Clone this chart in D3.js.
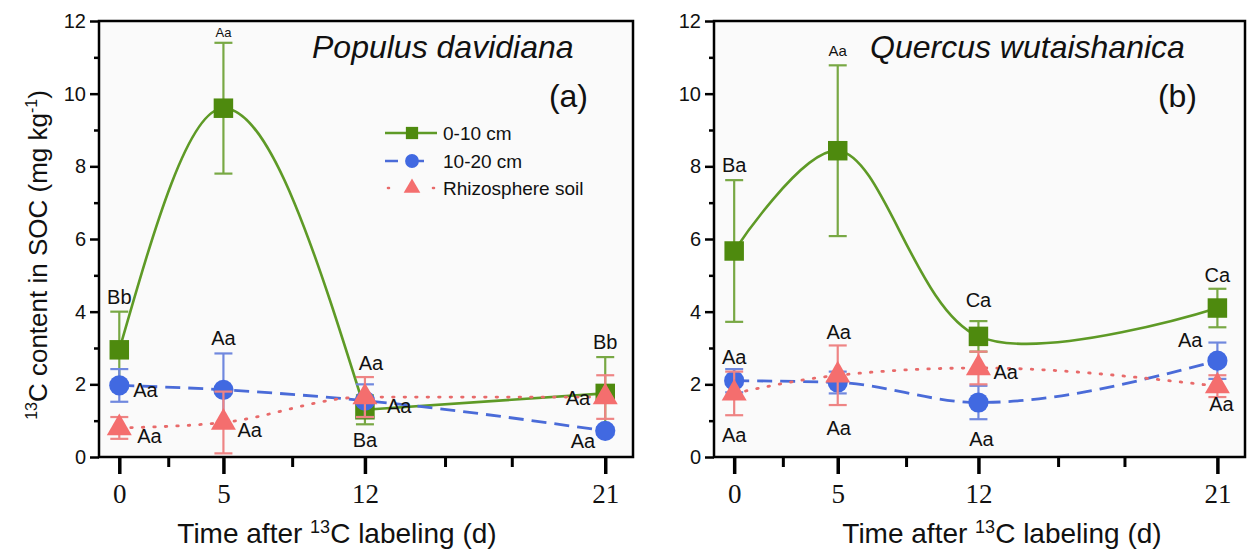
<!DOCTYPE html>
<html>
<head>
<meta charset="utf-8">
<script src="https://cdn.jsdelivr.net/npm/d3@7"></script>
<style>
  body { margin: 0; background: #fff; }
  svg { display: block; font-family: "Liberation Sans", Arial, sans-serif; }
</style>
</head>
<body>
<svg id="chart" width="1247" height="551"></svg>
<script>
// ---- data ----
var days = [0, 5, 12, 21];
var minorDays = [2.35, 8.4, 15, 17.5];
var yTicks = [0, 2, 4, 6, 8, 10, 12];
var yMinor = [1, 3, 5, 7, 9, 11];
var seriesNames = ['0-10 cm', '10-20 cm', 'Rhizosphere soil'];
var panelTitles = ['Populus davidiana', 'Quercus wutaishanica'];
var panelTags = ['(a)', '(b)'];

// (a) Populus davidiana
var popTop = [2.95, 9.6, 1.3, 1.75];
var popTopErr = [1.05, 1.8, 0.4, 1.0];
var popSub = [1.97, 1.85, 1.55, 0.72];
var popSubErr = [0.45, 1.0, 0.45, 0.1];
var popRhizo = [0.8, 0.95, 1.65, 1.65];
var popRhizoErr = [0.3, 0.85, 0.55, 0.6];
var popLetters = [['Bb', 'Aa', 'Ba', 'Bb'], ['Aa', 'Aa', 'Aa', 'Aa'], ['Aa', 'Aa', 'Aa', 'Aa']];

// (b) Quercus wutaishanica
var queTop = [5.67, 8.43, 3.32, 4.1];
var queTopErr = [1.95, 2.35, 0.42, 0.53];
var queSub = [2.1, 2.05, 1.5, 2.65];
var queSubErr = [0.32, 0.3, 0.46, 0.5];
var queRhizo = [1.75, 2.25, 2.45, 1.95];
var queRhizoErr = [0.6, 0.82, 0.45, 0.3];
var queLetters = [['Ba', 'Aa', 'Ca', 'Ca'], ['Aa', 'Aa', 'Aa', 'Aa'], ['Aa', 'Aa', 'Aa', 'Aa']];

// where each letter sits relative to its marker: [dx, dy, anchor, fontSize]
var popLabelPos = [
    [[0, -46, 'middle', 20], [0, -71, 'middle', 13], [0, 37, 'middle', 20], [0, -44, 'middle', 20]],
    [[14, 12, 'start', 20], [0, -45, 'middle', 20], [22, 12, 'start', 20], [-10, 17, 'end', 20]],
    [[18, 15, 'start', 20], [14, 15, 'start', 20], [6, -27, 'middle', 20], [-15, 8, 'end', 20]]
];
var queLabelPos = [
    [[0, -79, 'middle', 20], [0, -95, 'middle', 15], [0, -29, 'middle', 20], [0, -26, 'middle', 20]],
    [[0, -17, 'middle', 20], [1, 52, 'middle', 20], [3, 43, 'middle', 20], [-15, -14, 'end', 20]],
    [[0, 49, 'middle', 20], [1, -36, 'middle', 20], [15, 11, 'start', 20], [4, 25, 'middle', 20]]
];

// ---- styling ----
var styles = [
    { fill: '#4e8a0e', line: '#5e9a26', err: '#78a844', dash: null, symbol: d3.symbolSquare, size: 380, lsize: 150 },
    { fill: '#4169e1', line: '#4a6bd8', err: '#7088de', dash: '15,8', symbol: d3.symbolCircle, size: 320, lsize: 150 },
    { fill: '#f46e6e', line: '#e86a6a', err: '#ee8484', dash: '1.5,10', symbol: d3.symbolTriangle, size: 270, lsize: 120 }
];
var dayFrac = [0.038, 0.233, 0.498, 0.948];

var panels = [
    { left: 99, right: 633, top: 21, bottom: 457, title: panelTitles[0], tag: panelTags[0],
      titleX: 312, tagX: 588, xTitleX: 337,
      values: [popTop, popSub, popRhizo], errors: [popTopErr, popSubErr, popRhizoErr],
      letters: popLetters, labelPos: popLabelPos, greenSplit: true, legend: true },
    { left: 714, right: 1245, top: 21, bottom: 457, title: panelTitles[1], tag: panelTags[1],
      titleX: 870, tagX: 1197, xTitleX: 1002,
      values: [queTop, queSub, queRhizo], errors: [queTopErr, queSubErr, queRhizoErr],
      letters: queLetters, labelPos: queLabelPos, greenSplit: false, legend: false }
];

var svg = d3.select('#chart');

panels.forEach(function(p) {
    var w = p.right - p.left;
    var x = d3.scaleLinear()
        .domain(days)
        .range(dayFrac.map(function(f) { return p.left + f * w; }));
    var y = d3.scaleLinear().domain([0, 12]).range([p.bottom, p.top]);

    var g = svg.append('g');

    g.append('rect')
        .attr('x', p.left).attr('y', p.top)
        .attr('width', w).attr('height', p.bottom - p.top)
        .attr('fill', '#fafafa');

    // y axis
    var yAxis = d3.axisLeft(y).tickValues(yTicks).tickSize(9).tickPadding(4).tickFormat(d3.format('d'));
    var ya = g.append('g').attr('transform', 'translate(' + p.left + ',0)').call(yAxis);
    ya.select('.domain').remove();
    ya.selectAll('line').attr('stroke', '#000').attr('stroke-width', 2.5);
    ya.selectAll('text').attr('font-size', 20).attr('font-family', '"Liberation Sans", Arial, sans-serif').attr('fill', '#111');
    var ym = g.append('g').attr('transform', 'translate(' + p.left + ',0)')
        .call(d3.axisLeft(y).tickValues(yMinor).tickSize(5).tickFormat(''));
    ym.select('.domain').remove();
    ym.selectAll('line').attr('stroke', '#000').attr('stroke-width', 2.5);

    // x axis
    var xa = g.append('g').attr('transform', 'translate(0,' + p.bottom + ')')
        .call(d3.axisBottom(x).tickValues(days).tickSize(17).tickPadding(10).tickFormat(d3.format('d')));
    xa.select('.domain').remove();
    xa.selectAll('line').attr('stroke', '#000').attr('stroke-width', 3.5);
    xa.selectAll('text').attr('font-size', 27).attr('font-family', '"Liberation Serif", "Times New Roman", serif').attr('fill', '#111');
    var xm = g.append('g').attr('transform', 'translate(0,' + p.bottom + ')')
        .call(d3.axisBottom(x).tickValues(minorDays).tickSize(10).tickFormat(''));
    xm.select('.domain').remove();
    xm.selectAll('line').attr('stroke', '#000').attr('stroke-width', 3);

    // frame
    g.append('rect')
        .attr('x', p.left).attr('y', p.top)
        .attr('width', w).attr('height', p.bottom - p.top)
        .attr('fill', 'none').attr('stroke', '#000').attr('stroke-width', 2.5);

    // lines
    p.values.forEach(function(vals, si) {
        var st = styles[si];
        var pts = vals.map(function(v, i) { return [x(days[i]), y(v)]; });
        var segs;
        if (si === 0 && p.greenSplit) {
            segs = [[pts.slice(0, 3), d3.curveMonotoneX], [pts.slice(2), d3.curveLinear]];
        } else if (si === 0) {
            segs = [[pts, d3.curveCatmullRom.alpha(0.5)]];
        } else {
            segs = [[pts, d3.curveMonotoneX]];
        }
        segs.forEach(function(s) {
            g.append('path')
                .attr('d', d3.line().curve(s[1])(s[0]))
                .attr('fill', 'none')
                .attr('stroke', st.line)
                .attr('stroke-width', si === 0 ? 2.6 : 2.8)
                .attr('stroke-linecap', si === 2 ? 'round' : 'butt')
                .attr('stroke-dasharray', st.dash);
        });
    });

    // error bars and markers
    p.values.forEach(function(vals, si) {
        var st = styles[si];
        var errs = p.errors[si];
        var eg = g.append('g').attr('stroke', st.err).attr('stroke-width', 2.2);
        vals.forEach(function(v, i) {
            var cx = x(days[i]);
            var y1 = y(v + errs[i]), y2 = y(Math.max(0, v - errs[i]));
            eg.append('line').attr('x1', cx).attr('x2', cx).attr('y1', y1).attr('y2', y2);
            eg.append('line').attr('x1', cx - 9).attr('x2', cx + 9).attr('y1', y1).attr('y2', y1);
            eg.append('line').attr('x1', cx - 9).attr('x2', cx + 9).attr('y1', y2).attr('y2', y2);
        });
        g.selectAll(null)
            .data(vals)
            .enter().append('path')
            .attr('d', d3.symbol().type(st.symbol).size(st.size))
            .attr('transform', function(d, i) { return 'translate(' + x(days[i]) + ',' + y(d) + ')'; })
            .attr('fill', st.fill);
    });

    // significance letters
    p.values.forEach(function(vals, si) {
        vals.forEach(function(v, i) {
            var pos = p.labelPos[si][i];
            g.append('text')
                .attr('x', x(days[i]) + pos[0])
                .attr('y', y(v) + pos[1])
                .attr('text-anchor', pos[2])
                .attr('font-size', pos[3])
                .attr('fill', '#111')
                .text(p.letters[si][i]);
        });
    });

    // titles
    g.append('text')
        .attr('x', p.titleX).attr('y', p.top + 37)
        .attr('font-size', 32).attr('font-style', 'italic').attr('fill', '#111')
        .text(p.title);
    g.append('text')
        .attr('x', p.tagX).attr('y', p.top + 86)
        .attr('text-anchor', 'end')
        .attr('font-size', 32).attr('fill', '#111')
        .text(p.tag);

    // x title
    var xt = g.append('text')
        .attr('x', p.xTitleX).attr('y', 543)
        .attr('text-anchor', 'middle')
        .attr('font-size', 28).attr('fill', '#111');
    xt.append('tspan').text('Time after ');
    xt.append('tspan').attr('font-size', 18).attr('dy', -10).text('13');
    xt.append('tspan').attr('dy', 10).text('C labeling (d)');

    // legend
    if (p.legend) {
        var lg = g.append('g').attr('transform', 'translate(385,133)');
        seriesNames.forEach(function(name, si) {
            var st = styles[si];
            var row = lg.append('g').attr('transform', 'translate(0,' + [0, 28, 55][si] + ')');
            row.append('line')
                .attr('x1', 0).attr('x2', 52).attr('y1', 0).attr('y2', 0)
                .attr('stroke', st.line).attr('stroke-width', 2.6)
                .attr('stroke-linecap', si === 2 ? 'round' : 'butt')
                .attr('stroke-dasharray', si === 1 ? '13,13' : (si === 2 ? '1,44' : null))
                .attr('stroke-dashoffset', si === 2 ? -3 : 0);
            row.append('path')
                .attr('d', d3.symbol().type(st.symbol).size(st.lsize))
                .attr('transform', 'translate(27,0)')
                .attr('fill', st.fill);
            row.append('text')
                .attr('x', 58).attr('y', 7)
                .attr('font-size', 19).attr('fill', '#111')
                .text(name);
        });
    }
});

// y title
var yt = svg.append('text')
    .attr('transform', 'translate(47,255) rotate(-90)')
    .attr('text-anchor', 'middle')
    .attr('font-size', 26).attr('fill', '#111');
yt.append('tspan').attr('font-size', 16).attr('dy', -10).text('13');
yt.append('tspan').attr('dy', 10).text('C content in SOC (mg kg');
yt.append('tspan').attr('font-size', 16).attr('dy', -10).text('-1');
yt.append('tspan').attr('dy', 10).text(')');
</script>
</body>
</html>
